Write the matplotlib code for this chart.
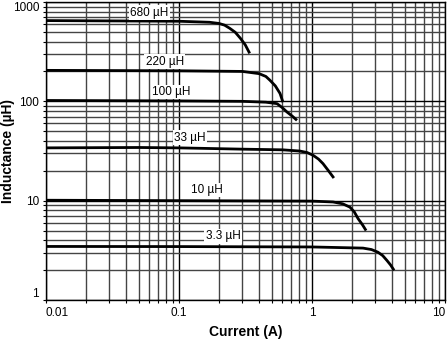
import matplotlib
matplotlib.use("Agg")
import matplotlib.pyplot as plt
from matplotlib.ticker import FixedLocator, NullFormatter, LogLocator

plt.rcParams['font.family'] = ['Liberation Sans', 'DejaVu Sans']

# inductance vs DC current for each part value
i_680 = [0.01, 0.1, 0.17, 0.2, 0.22, 0.24, 0.265, 0.29, 0.315, 0.34]
l_680 = [650, 640, 625, 608, 585, 545, 495, 430, 370, 304]

i_220 = [0.01, 0.1, 0.3, 0.4, 0.45, 0.483, 0.53, 0.575, 0.605]
l_220 = [205, 203, 200, 190, 178, 163, 143, 120, 98]

i_100 = [0.01, 0.1, 0.3, 0.45, 0.546, 0.6, 0.649, 0.71, 0.771]
l_100 = [102, 101, 100, 98, 94.8, 86, 78, 71, 64.4]

i_33 = [0.01, 0.05, 0.1, 0.3, 0.6, 0.81, 0.92, 1.02, 1.12, 1.21, 1.33, 1.46]
l_33 = [34, 34.3, 34, 33, 32.5, 31.6, 30.5, 28.6, 26.2, 23.6, 20, 16.9]

i_10 = [0.01, 0.1, 1.0, 1.44, 1.7, 1.93, 2.08, 2.22, 2.4, 2.55]
l_10 = [10.1, 10, 9.9, 9.7, 9.3, 8.6, 7.7, 6.6, 5.7, 5.0]

i_3p3 = [0.01, 0.1, 1.0, 2.42, 2.8, 3.13, 3.4, 3.66, 3.9, 4.14]
l_3p3 = [3.46, 3.45, 3.42, 3.33, 3.22, 3.03, 2.8, 2.5, 2.25, 1.99]

labels = ["680 µH", "220 µH", "100 µH", "33 µH", "10 µH", "3.3 µH"]
label_x = [0.060, 0.078, 0.088, 0.121, 0.162, 0.214]
label_y = [780, 250, 124, 43, 12.8, 4.37]

x_ticks = [0.01, 0.1, 1, 10]
x_ticklabels = ["0.01", "0.1", "1", "10"]
y_ticks = [1, 10, 100, 1000]
y_ticklabels = ["1", "10", "100", "1000"]

fig = plt.figure(figsize=(4.48, 3.42), dpi=100)
ax = fig.add_axes([46 / 448, 1 - 300 / 342, 399 / 448, 298 / 342])
ax.set_xscale("log")
ax.set_yscale("log")
ax.set_xlim(0.01, 10)
ax.set_ylim(1, 1000)

ax.xaxis.set_major_locator(FixedLocator(x_ticks))
ax.yaxis.set_major_locator(FixedLocator(y_ticks))
ax.xaxis.set_minor_locator(LogLocator(base=10, subs=range(2, 10)))
ax.yaxis.set_minor_locator(LogLocator(base=10, subs=range(2, 10)))
ax.xaxis.set_minor_formatter(NullFormatter())
ax.yaxis.set_minor_formatter(NullFormatter())
xt = ax.set_xticklabels(x_ticklabels)
yt = ax.set_yticklabels(y_ticklabels)
# keep end labels inside the figure
xt[0].set_ha("left")
xt[-1].set_ha("right")
yt[0].set_va("bottom")
yt[-1].set_va("top")

ax.grid(which="major", color="black", linewidth=1.0)
ax.grid(which="minor", color="#444444", linewidth=1.0)
ax.set_axisbelow(True)
ax.tick_params(which="both", direction="out", length=2, width=0.8, labelsize=8.5, pad=3)
for s in ax.spines.values():
    s.set_linewidth(1.0)

for xs, ys in [(i_680, l_680), (i_220, l_220), (i_100, l_100),
               (i_33, l_33), (i_10, l_10), (i_3p3, l_3p3)]:
    ax.plot(xs, ys, color="black", linewidth=2.0, solid_capstyle="butt", zorder=3)

for txt, x, y in zip(labels, label_x, label_y):
    ax.text(x, y, txt, fontsize=8.5, ha="center", va="center", zorder=4,
            bbox=dict(facecolor="white", edgecolor="none", pad=1.0))

ax.set_xlabel("Current (A)", fontsize=10, fontweight="bold", va="center")
ax.set_ylabel("Inductance (µH)", fontsize=10, fontweight="bold", va="center")
ax.xaxis.set_label_coords(0.5, -32 / 298)
ax.yaxis.set_label_coords(-38 / 399, 0.5)

fig.savefig("out.png", dpi=100)
